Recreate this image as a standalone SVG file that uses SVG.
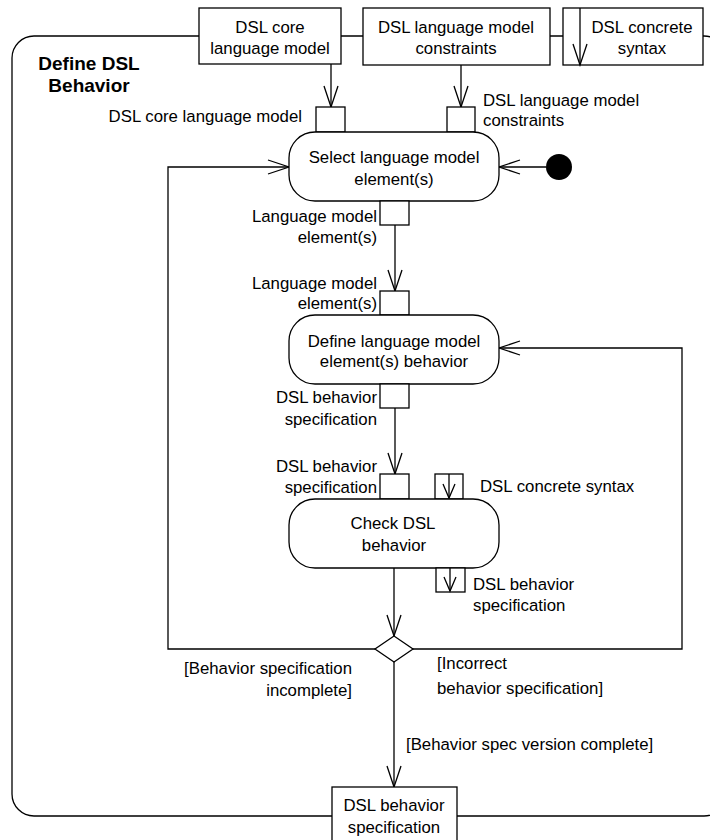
<svg xmlns="http://www.w3.org/2000/svg" width="710" height="840" viewBox="0 0 710 840">
<defs>
<style>
.ln{fill:none;stroke:#000;stroke-width:1.3}
.bx{fill:#fff;stroke:#000;stroke-width:1.3}
text{font-family:"Liberation Sans",Arial,sans-serif;font-size:16.8px;fill:#000}
.c{text-anchor:middle}
.r{text-anchor:end}
.b{font-weight:bold;font-size:19px}
</style>
<marker id="arr" viewBox="-23 -9 25 18" refX="0" refY="0" markerWidth="25" markerHeight="18" markerUnits="userSpaceOnUse" orient="auto">
<path d="M-21,-7 L0,0 L-21,7" fill="none" stroke="#000" stroke-width="1.3"/>
</marker>
<marker id="sarr" viewBox="-16 -8 18 16" refX="0" refY="0" markerWidth="18" markerHeight="16" markerUnits="userSpaceOnUse" orient="auto">
<path d="M-14,-6 L0,0 L-14,6" fill="none" stroke="#000" stroke-width="1.3"/>
</marker>
</defs>
<rect width="710" height="840" fill="#fff"/>

<g id="frame">
<rect class="ln" x="12" y="36" width="714" height="780" rx="22" ry="22"/>
<text class="c b" x="89" y="70">Define DSL</text>
<text class="c b" x="89" y="92">Behavior</text>
</g>

<g id="connectors">
<line class="ln" x1="331" y1="64" x2="331" y2="107" marker-end="url(#arr)"/>
<line class="ln" x1="461" y1="65" x2="461" y2="107" marker-end="url(#arr)"/>
<line class="ln" x1="546" y1="167" x2="499" y2="167" marker-end="url(#arr)"/>
<line class="ln" x1="395" y1="225" x2="395" y2="291" marker-end="url(#arr)"/>
<line class="ln" x1="395" y1="408" x2="395" y2="474" marker-end="url(#arr)"/>
<line class="ln" x1="394" y1="568" x2="394" y2="636" marker-end="url(#arr)"/>
<polyline class="ln" points="375,649 168,649 168,167 289,167" marker-end="url(#arr)"/>
<polyline class="ln" points="413,649 682,649 682,348 499,348" marker-end="url(#arr)"/>
<line class="ln" x1="394" y1="662" x2="394" y2="787" marker-end="url(#arr)"/>
</g>

<g id="in-core">
<rect class="bx" x="199" y="8" width="142" height="56"/>
<text class="c" x="270" y="33">DSL core</text>
<text class="c" x="270" y="54">language model</text>
</g>
<g id="in-constraints">
<rect class="bx" x="363" y="8" width="187" height="57"/>
<text class="c" x="456" y="33">DSL language model</text>
<text class="c" x="456" y="54">constraints</text>
</g>
<g id="in-syntax">
<rect class="bx" x="563" y="8" width="140" height="57"/>
<line class="ln" x1="580" y1="8" x2="580" y2="65" marker-end="url(#arr)"/>
<text class="c" x="642" y="33">DSL concrete</text>
<text class="c" x="642" y="54">syntax</text>
</g>

<g id="pin-core">
<rect class="bx" x="316" y="107" width="29" height="25"/>
<text class="r" x="302" y="122">DSL core language model</text>
</g>
<g id="pin-constraints">
<rect class="bx" x="447" y="107" width="28" height="25"/>
<text x="483" y="106">DSL language model</text>
<text x="483" y="126">constraints</text>
</g>

<g id="select">
<rect class="bx" x="289" y="132" width="210" height="69" rx="26" ry="26"/>
<text class="c" x="394" y="163">Select language model</text>
<text class="c" x="394" y="185">element(s)</text>
</g>
<g id="initial">
<circle cx="559" cy="167" r="13" fill="#000"/>
</g>
<g id="pin-select-out">
<rect class="bx" x="380" y="201" width="29" height="24"/>
<text class="r" x="377" y="222">Language model</text>
<text class="r" x="377" y="243">element(s)</text>
</g>
<g id="pin-define-in">
<rect class="bx" x="380" y="291" width="29" height="24"/>
<text class="r" x="377" y="289">Language model</text>
<text class="r" x="377" y="309">element(s)</text>
</g>

<g id="define">
<rect class="bx" x="289" y="315" width="210" height="69" rx="26" ry="26"/>
<text class="c" x="394" y="347">Define language model</text>
<text class="c" x="394" y="367">element(s) behavior</text>
</g>
<g id="pin-define-out">
<rect class="bx" x="380" y="384" width="29" height="24"/>
<text class="r" x="377" y="403">DSL behavior</text>
<text class="r" x="377" y="425">specification</text>
</g>
<g id="pin-check-in">
<rect class="bx" x="380" y="474" width="29" height="25"/>
<text class="r" x="377" y="472">DSL behavior</text>
<text class="r" x="377" y="493">specification</text>
</g>
<g id="pin-check-syntax">
<rect class="bx" x="435" y="474" width="28" height="25"/>
<line class="ln" x1="449" y1="474" x2="449" y2="498" marker-end="url(#sarr)"/>
<text x="480" y="492">DSL concrete syntax</text>
</g>

<g id="check">
<rect class="bx" x="289" y="499" width="210" height="69" rx="26" ry="26"/>
<text class="c" x="393" y="529">Check DSL</text>
<text class="c" x="394" y="551">behavior</text>
</g>
<g id="pin-check-out">
<rect class="bx" x="436" y="568" width="29" height="24"/>
<line class="ln" x1="450" y1="568" x2="450" y2="591" marker-end="url(#sarr)"/>
<text x="473" y="590">DSL behavior</text>
<text x="473" y="611">specification</text>
</g>

<g id="decision">
<polygon class="bx" points="394,636 413,649 394,662 375,649"/>
<text class="r" x="352" y="674">[Behavior specification</text>
<text class="r" x="352" y="696">incomplete]</text>
<text x="437" y="669">[Incorrect</text>
<text x="437" y="694">behavior specification]</text>
<text x="406" y="750">[Behavior spec version complete]</text>
</g>

<g id="out-spec">
<rect class="bx" x="332" y="787" width="125" height="60"/>
<text class="c" x="394" y="811">DSL behavior</text>
<text class="c" x="394" y="833">specification</text>
</g>
</svg>
